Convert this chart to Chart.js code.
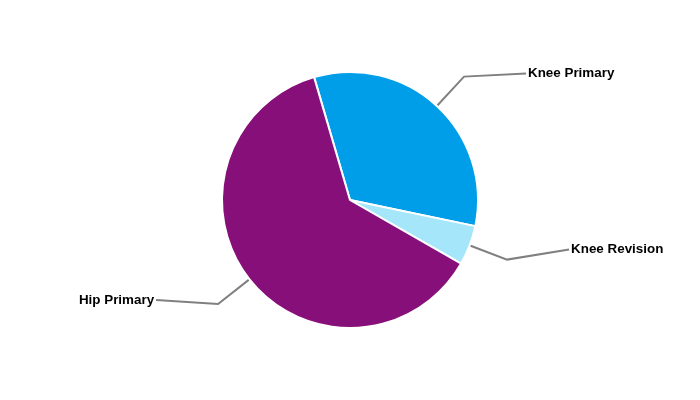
<!DOCTYPE html>
<html>
<head>
<meta charset="utf-8">
<script src="https://cdn.jsdelivr.net/npm/chart.js@4"></script>
<style>
  html, body { margin: 0; padding: 0; background: #fff; }
  #wrap { width: 700px; height: 400px; }
</style>
</head>
<body>
<div id="wrap"><canvas id="pieChart"></canvas></div>
<script>
const categories = ["Knee Primary", "Knee Revision", "Hip Primary"];
const shares = [32.8, 5.0, 62.2];
const colors = ["#009EE8", "#A6E6FB", "#870F79"];
// small vertical nudge for the end of each leader line
const labelNudge = [-3, -10, -4];

const leaderLabels = {
  id: "leaderLabels",
  afterDraw(chart) {
    const ctx = chart.ctx;
    const arcs = chart.getDatasetMeta(0).data;
    ctx.save();
    ctx.font = "bold 13.4px 'Liberation Sans', Arial, sans-serif";
    ctx.textBaseline = "middle";
    arcs.forEach((arc, i) => {
      const { x, y, startAngle, endAngle, outerRadius } = arc.getProps(
        ["x", "y", "startAngle", "endAngle", "outerRadius"], true);
      const mid = (startAngle + endAngle) / 2;
      const cos = Math.cos(mid), sin = Math.sin(mid);
      const p0 = [x + cos * (outerRadius + 1), y + sin * (outerRadius + 1)];
      const p1 = [x + cos * (outerRadius + 40), y + sin * (outerRadius + 40)];
      const dir = cos >= 0 ? 1 : -1;
      const p2 = [p1[0] + dir * 62, p1[1] + labelNudge[i]];

      ctx.strokeStyle = "#808080";
      ctx.lineWidth = 2;
      ctx.beginPath();
      ctx.moveTo(p0[0], p0[1]);
      ctx.lineTo(p1[0], p1[1]);
      ctx.lineTo(p2[0], p2[1]);
      ctx.stroke();

      ctx.fillStyle = "#000";
      ctx.textAlign = dir > 0 ? "left" : "right";
      ctx.fillText(categories[i], p2[0] + dir * 2, p2[1]);
    });
    ctx.restore();
  },
};

new Chart(document.getElementById("pieChart"), {
  type: "pie",
  data: {
    labels: categories,
    datasets: [{
      data: shares,
      backgroundColor: colors,
      borderColor: "#ffffff",
      borderWidth: 2,
    }],
  },
  options: {
    responsive: true,
    maintainAspectRatio: false,
    animation: false,
    rotation: -16.3,
    layout: { padding: { top: 71, bottom: 71, left: 0, right: 0 } },
    plugins: {
      legend: { display: false },
      tooltip: { enabled: false },
    },
  },
  plugins: [leaderLabels],
});
</script>
</body>
</html>
